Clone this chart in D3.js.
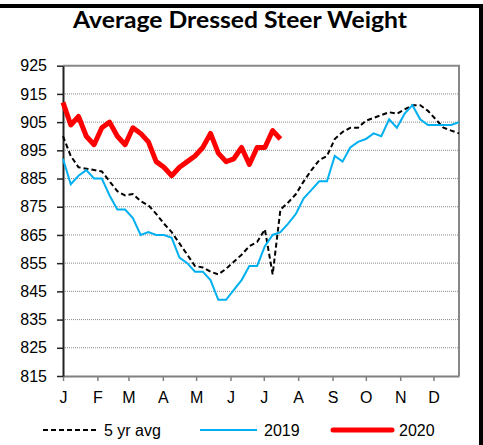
<!DOCTYPE html>
<html>
<head>
<meta charset="utf-8">
<script src="https://cdn.jsdelivr.net/npm/d3@7"></script>
<style>
  body { margin: 0; background: #fff; }
  svg { display: block; }
</style>
</head>
<body>
<div id="chart"></div>
<script>
// data (weekly, 52 weeks)
const months = ['J', 'F', 'M', 'A', 'M', 'J', 'J', 'A', 'S', 'O', 'N', 'D']
const monthStartDay = [0, 31, 59, 90, 120, 151, 181, 212, 243, 273, 304, 334]
const yTicks = [815, 825, 835, 845, 855, 865, 875, 885, 895, 905, 915, 925]

const avg5 = [900, 893, 889, 888.5, 888, 887.5, 884, 880.5, 879, 879.5, 877, 875.5,
  872.5, 869, 866, 862, 858, 854, 853.5, 852, 851, 853, 855.5, 858, 861, 862.5,
  867, 851, 874, 876.5, 879.5, 884, 888, 891.5, 893, 899, 901.5, 903, 903, 905.5,
  906.5, 907.5, 908.5, 908, 909.5, 911, 911, 909, 906, 903, 902, 901]
const y2019 = [892, 883, 886, 888, 885, 885, 879, 874, 874, 871, 865, 866, 865, 865,
  864, 857, 855, 852, 852, 849, 842, 842, 845.5, 849, 854, 854, 861, 865, 866, 869,
  872.5, 878, 881, 884, 884, 893, 891, 896, 898, 899, 901, 900, 906, 903, 908, 911,
  906, 904, 904, 904, 904, 905]
const y2020 = [912, 904, 907, 900, 897, 903, 905, 900, 897, 903, 901, 898, 891, 889,
  886, 889, 891, 893, 896, 901, 894, 891, 892, 896, 890, 896, 896, 902, 899]

const seriesNames = ['5 yr avg', '2019', '2020']

const width = 483,
  height = 445,
  plotLeft = 63, plotRight = 459,
  plotTop = 65.7, plotBottom = 376

const svg = d3.select('#chart')
  .append('svg')
  .attr('width', width)
  .attr('height', height)

// outer frame bits
svg.append('rect').attr('x', 0).attr('y', 4).attr('width', width).attr('height', 4).attr('fill', '#000')
svg.append('rect').attr('x', 479).attr('y', 4).attr('width', 4).attr('height', height).attr('fill', '#000')

svg.append('text')
  .attr('x', 73).attr('y', 28)
  .attr('textLength', 334)
  .attr('lengthAdjust', 'spacingAndGlyphs')
  .style('font-family', 'Lato, "Open Sans", sans-serif')
  .style('font-weight', 'bold')
  .style('font-size', '22px')
  .text('Average Dressed Steer Weight')

const x = d3.scaleLinear().domain([0, 51]).range([plotLeft, plotRight])
const y = d3.scaleLinear().domain([815, 925]).range([plotBottom, plotTop])

// grid
svg.append('g')
  .selectAll('line')
  .data(yTicks.slice(1, -1))
  .enter()
  .append('line')
  .attr('x1', plotLeft).attr('x2', plotRight)
  .attr('y1', d => y(d)).attr('y2', d => y(d))
  .attr('stroke', '#8a8a8a')
  .attr('stroke-width', 1)
  .attr('stroke-dasharray', '1,1')

// plot frame (top + right)
svg.append('path')
  .attr('d', `M${plotLeft},${y(925)}H${plotRight}V${plotBottom}`)
  .attr('fill', 'none')
  .attr('stroke', '#888')
  .attr('stroke-width', 2)

const xAxis = d3.axisBottom(x)
  .tickValues(monthStartDay.map(d => d / 7))
  .tickFormat((d, i) => months[i])
  .tickSize(5)
  .tickSizeOuter(0)
  .tickPadding(11)

const yAxis = d3.axisLeft(y)
  .tickValues(yTicks)
  .tickSize(6)
  .tickSizeOuter(0)
  .tickPadding(10)

const gx = svg.append('g')
  .attr('transform', `translate(0,${plotBottom})`)
  .call(xAxis)
gx.select('.domain').attr('stroke', '#808080').attr('stroke-width', 2)
gx.selectAll('.tick line').attr('stroke', '#808080').attr('stroke-width', 1.5)

const gy = svg.append('g')
  .attr('transform', `translate(${plotLeft},0)`)
  .call(yAxis)
gy.select('.domain').attr('stroke', '#222').attr('stroke-width', 2)
gy.selectAll('.tick line').attr('stroke', '#222').attr('stroke-width', 1.5)

svg.selectAll('.tick text')
  .style('font-family', '"Liberation Sans", Arial, sans-serif')
  .style('font-size', '16px')
  .attr('fill', '#000')

const line = d3.line()
  .x((d, i) => x(i))
  .y(d => y(d))

svg.append('path')
  .datum(avg5)
  .attr('d', line)
  .attr('fill', 'none')
  .attr('stroke', '#000')
  .attr('stroke-width', 2)
  .attr('stroke-dasharray', '5,3')

svg.append('path')
  .datum(y2019)
  .attr('d', line)
  .attr('fill', 'none')
  .attr('stroke', '#00b0f0')
  .attr('stroke-width', 2)

svg.append('path')
  .datum(y2020)
  .attr('d', line)
  .attr('fill', 'none')
  .attr('stroke', '#ff0000')
  .attr('stroke-width', 5)
  .attr('stroke-linejoin', 'round')

// legend
const legendItems = [
  { name: seriesNames[0], x1: 43, x2: 97, color: '#000', w: 2, dash: '5,3' },
  { name: seriesNames[1], x1: 200, x2: 257, color: '#00b0f0', w: 2, dash: null },
  { name: seriesNames[2], x1: 333, x2: 392, color: '#ff0000', w: 5, dash: null }
]
const lg = svg.append('g')
lg.selectAll('line')
  .data(legendItems)
  .enter()
  .append('line')
  .attr('x1', d => d.x1).attr('x2', d => d.x2)
  .attr('y1', 430).attr('y2', 430)
  .attr('stroke', d => d.color)
  .attr('stroke-width', d => d.w)
  .attr('stroke-dasharray', d => d.dash)
  .attr('stroke-linecap', d => d.w > 3 ? 'round' : 'butt')
lg.selectAll('text')
  .data(legendItems)
  .enter()
  .append('text')
  .attr('x', d => d.x2 + 7)
  .attr('y', 436)
  .style('font-family', '"Liberation Sans", Arial, sans-serif')
  .style('font-size', '16px')
  .text(d => d.name)
</script>
</body>
</html>
